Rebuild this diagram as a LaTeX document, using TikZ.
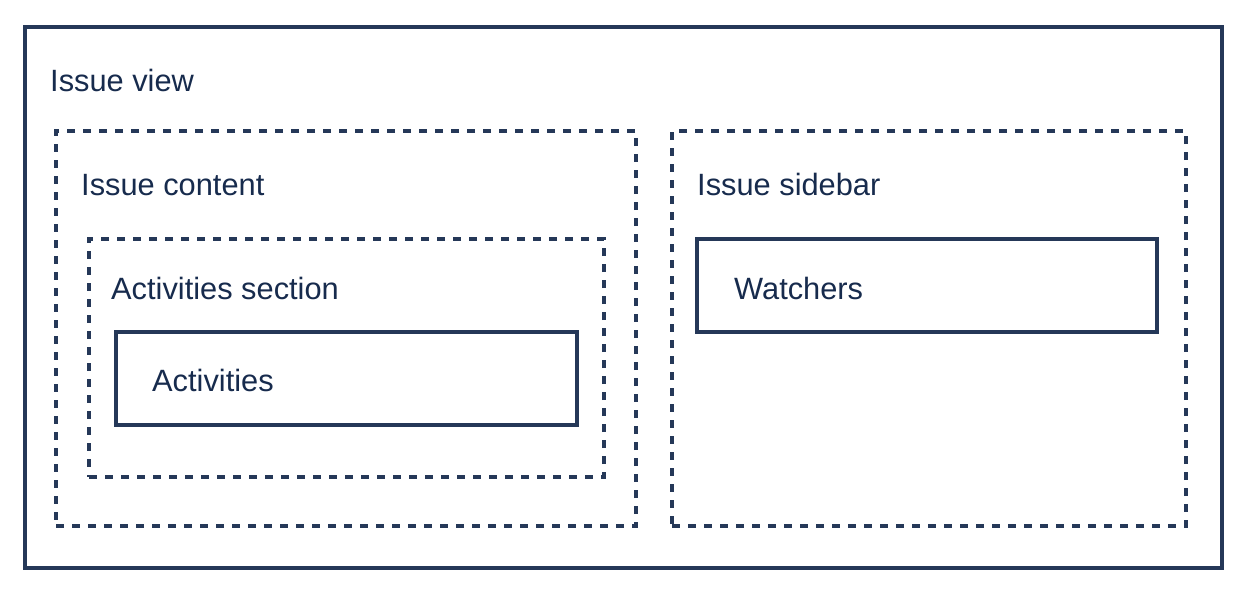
\documentclass[tikz,border=0pt]{standalone}
\usepackage{fontspec}
\setmainfont{Liberation Sans}
\definecolor{stroke}{HTML}{253858}
\definecolor{ink}{HTML}{172B4D}
\begin{document}
\begin{tikzpicture}[x=1pt,y=-1pt,
  box/.style={draw=stroke,line width=3.5pt,inner sep=0pt,outer sep=0pt,anchor=north west},
  dbox/.style={box,dash pattern=on 8pt off 8pt},
  lbl/.style={anchor=base west,inner sep=0pt,text=ink,font=\fontsize{30.8}{36}\selectfont}]
\useasboundingbox (0,0) rectangle (1256,598);
\node[box,minimum width=1197pt,minimum height=541pt] (view) at (25,27) {};
\node[dbox,minimum width=580pt,minimum height=395pt] (content) at (56,131) {};
\node[dbox,minimum width=515pt,minimum height=238pt] (section) at (89,239) {};
\node[box,minimum width=461pt,minimum height=93pt] (activities) at (116,332) {};
\node[dbox,minimum width=514pt,minimum height=395pt] (sidebar) at (672,131) {};
\node[box,minimum width=460pt,minimum height=93pt] (watchers) at (697,239) {};
\node[lbl] (tview) at (50,91) {Issue view};
\node[lbl] (tcontent) at (81,195) {Issue content};
\node[lbl] (tsection) at (111,299) {Activities section};
\node[lbl] (tactivities) at (152,391) {Activities};
\node[lbl] (tsidebar) at (697,195) {Issue sidebar};
\node[lbl] (twatchers) at (734,299) {Watchers};
\end{tikzpicture}
\end{document}
